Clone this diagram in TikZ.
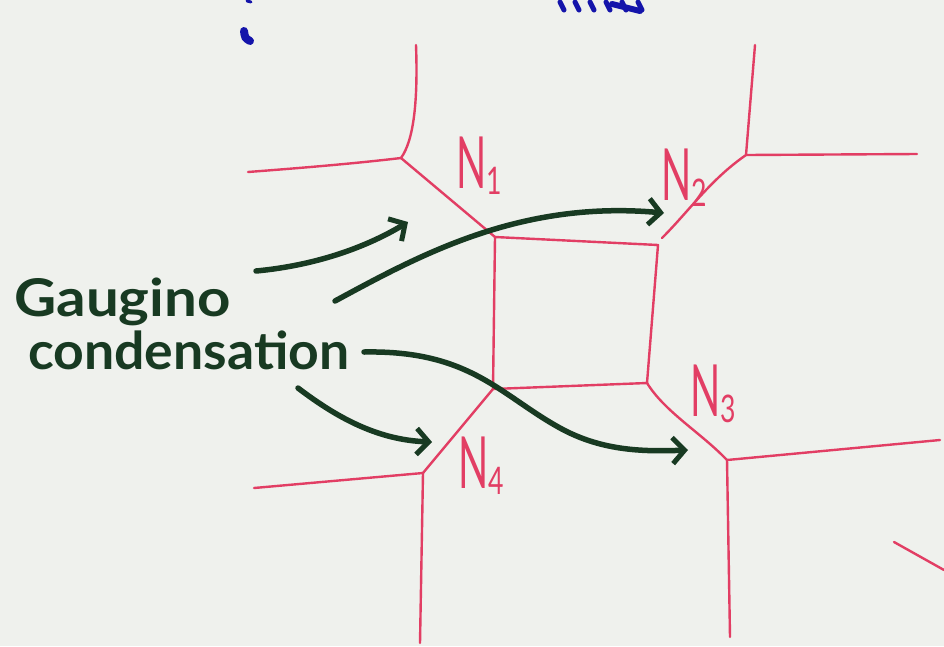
\documentclass[tikz,border=0pt]{standalone}
\usepackage{fontspec}
\usetikzlibrary{arrows.meta}
\newfontfamily\hand{Lato}
\definecolor{paper}{RGB}{239,241,237}
\definecolor{pen}{RGB}{226,62,100}
\definecolor{marker}{RGB}{24,58,34}
\definecolor{ink}{RGB}{20,20,170}
\tikzset{
  wall/.style={pen, line width=2.4pt, line cap=round, line join=round},
  flow/.style={marker, line width=5.5pt, line cap=round,
    -{Straight Barb[length=12pt,width=26pt,line width=5pt]}},
  lab/.style={pen, inner sep=0pt, font=\hand},
  words/.style={marker, inner sep=0pt, font=\hand\bfseries\fontsize{52}{52}\selectfont, anchor=base west},
  blot/.style={ink, line width=6pt, line cap=round}
}
\newcommand{\nlab}[1]{\scalebox{0.55}[1]{\fontsize{72}{72}\selectfont N}\raisebox{-6pt}{\scalebox{0.7}[1]{\fontsize{38}{38}\selectfont #1}}}
\begin{document}
\begin{tikzpicture}[x=1pt,y=-1pt]
\fill[paper] (0,0) rectangle (944,646);
\useasboundingbox (0,0) rectangle (944,646);

% blue fragments at top
\draw[blot, line width=8pt] (244,31) .. controls (245,38) .. (250,41);
\draw[blot, line width=3pt] (247,1) -- (251,2);
\foreach \a in {560,575,590,606,622,638}{\draw[blot, line width=5pt] (\a,2) -- (\a+4,10);}
\draw[blot] (612,4) -- (640,11);

% junction coordinates
\coordinate (s1) at (495,237);
\coordinate (s2) at (658,245);
\coordinate (s3) at (647,383);
\coordinate (s4) at (493,389);
\coordinate (j1) at (401,158);
\coordinate (j2) at (746,155);
\coordinate (j3) at (727,460);
\coordinate (j4) at (423,473);
\coordinate (t1) at (416,45);
\coordinate (w1) at (248,172);
\coordinate (t2) at (755,45);
\coordinate (e2) at (917,154);
\coordinate (e3) at (940,440);
\coordinate (b3) at (730,637);
\coordinate (w4) at (254,488);
\coordinate (b4) at (420,643);
\coordinate (r1) at (894,542);
\coordinate (r2) at (944,570);

% red network
\draw[wall] (s1) -- (s2) -- (s3) -- (s4) -- cycle;
\draw[wall] (t1) .. controls (418,100) and (414,140) .. (j1);
\draw[wall] (w1) .. controls (300,168) and (350,164) .. (j1);
\draw[wall] (j1) -- (s1);
\draw[wall] (t2) -- (j2);
\draw[wall] (j2) -- (e2);
\draw[wall] (j2) .. controls (710,180) and (690,210) .. (662,238);
\draw[wall] (s3) .. controls (665,412) and (700,432) .. (j3);
\draw[wall] (j3) -- (e3);
\draw[wall] (j3) -- (b3);
\draw[wall] (s4) -- (j4);
\draw[wall] (j4) -- (w4);
\draw[wall] (j4) -- (b4);
\draw[wall] (r1) -- (r2);

% labels
\node[lab, anchor=base west] (n1) at (456,188) {\nlab{1}};
\node[lab, anchor=base west] (n2) at (661,200) {\nlab{2}};
\node[lab, anchor=base west] (n3) at (690,416) {\nlab{3}};
\node[lab, anchor=base west] (n4) at (458,488) {\nlab{4}};

% text
\node[words] (g) at (14,316) {\scalebox{1.12}[1]{Gaugino}};
\node[words] (c) at (28,369) {\scalebox{1.03}[1]{condensation}};

% arrows
\coordinate (a1s) at (256,271);
\coordinate (a1e) at (408,222);
\coordinate (a2s) at (335,301);
\coordinate (a2e) at (664,213);
\coordinate (a3s) at (364,352);
\coordinate (a3e) at (688,450);
\coordinate (a4s) at (298,388);
\coordinate (a4e) at (432,442);
\draw[flow] (a1s) .. controls (320,265) and (370,245) .. (a1e);
\draw[flow] (a2s) .. controls (420,255) and (520,200) .. (a2e);
\draw[flow] (a3s) .. controls (470,350) and (500,395) .. (560,428) .. controls (600,450) and (640,452) .. (a3e);
\draw[flow] (a4s) .. controls (340,420) and (380,440) .. (a4e);
\end{tikzpicture}
\end{document}
